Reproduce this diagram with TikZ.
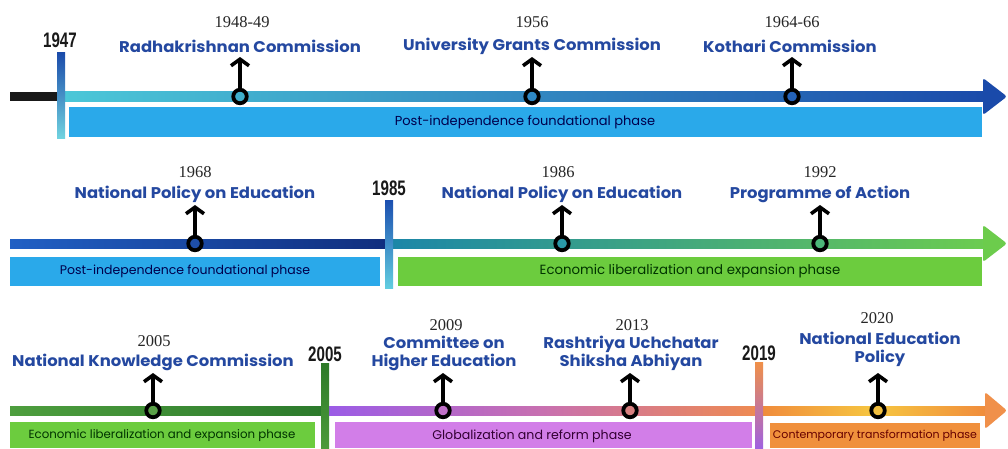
\documentclass[tikz,border=0pt]{standalone}
\usepackage{fontspec}
\setmainfont{Liberation Serif}
\newfontfamily\labfont{Poppins}
\newfontfamily\widefont{Poppins}[FakeStretch=1.06]
\newfontfamily\erafont{Liberation Sans}[FakeStretch=0.72]
\usetikzlibrary{arrows.meta}

\definecolor{labblue}{HTML}{2448A0}
\definecolor{cyanA}{HTML}{4CC8D8}
\definecolor{blueA}{HTML}{1A4AAA}
\definecolor{skyBox}{HTML}{2AA9EA}
\definecolor{greenBox}{HTML}{6CCC3E}
\definecolor{violetBox}{HTML}{D27EE8}
\definecolor{orangeBox}{HTML}{F0903C}
% timeline bar colours
\definecolor{navyL}{HTML}{2160C4}
\definecolor{navyR}{HTML}{112E7E}
\definecolor{tealL}{HTML}{1B86A8}
\definecolor{greenR}{HTML}{6CCC50}
\definecolor{greenTip}{HTML}{6CCC4C}
\definecolor{barTop}{HTML}{1C4FB0}
\definecolor{barBot}{HTML}{62CDE0}
\definecolor{dgreenL}{HTML}{4E9E3E}
\definecolor{dgreenR}{HTML}{2C7A2C}
\definecolor{purpL}{HTML}{9B5CE6}
\definecolor{pinkM}{HTML}{C870B0}
\definecolor{orangeR}{HTML}{EE8A52}
\definecolor{orangeE}{HTML}{F08C3C}
\definecolor{yellowM}{HTML}{F6C640}
\definecolor{orangeTip}{HTML}{F0904A}
\definecolor{gbarTop}{HTML}{2E7A28}
\definecolor{gbarBot}{HTML}{4C9A3A}
\definecolor{obarTop}{HTML}{F09048}
\definecolor{obarBot}{HTML}{A062E0}
% marker fills
\definecolor{dotA}{HTML}{3FAFCC}
\definecolor{dotB}{HTML}{2E88C4}
\definecolor{dotC}{HTML}{2462B8}
\definecolor{dotD}{HTML}{1E4EA8}
\definecolor{dotE}{HTML}{2A9AA8}
\definecolor{dotF}{HTML}{4CB878}
\definecolor{dotG}{HTML}{5AA048}
\definecolor{dotH}{HTML}{C070C8}
\definecolor{dotI}{HTML}{D88080}
\definecolor{dotJ}{HTML}{F2C040}

\begin{document}
\begin{tikzpicture}[x=1pt,y=-1pt,
  evlabel/.style={font=\widefont\bfseries\fontsize{15.5}{18}\selectfont, text=labblue, align=center, inner sep=0pt},
  yr/.style={font=\fontsize{16.5}{17}\selectfont, text=black!85, inner sep=0pt},
  era/.style={font=\erafont\bfseries\fontsize{21}{21}\selectfont, text=black!90, inner sep=0pt},
  phase/.style={font=\labfont\fontsize{13}{14}\selectfont, inner sep=0pt},
  dot/.style={circle, draw=black, line width=3.8pt, minimum size=13.5pt, inner sep=0pt},
  up/.style={line width=3.8pt, -{Straight Barb[length=6.5pt,width=18pt,line width=3.6pt]}},
  tip/.style={rounded corners=2.5pt}
]
\fill[white] (0,0) rectangle (1008,448);
\useasboundingbox (0,0) rectangle (1008,448);

% ---------- 1947 -- 1966 ----------
\fill[black!90] (10,92) rectangle (58,101);
\fill[left color=cyanA, right color=blueA] (58,91.5) rectangle (986,101);
\fill[blueA, tip] (983,78) -- (1007,96.5) -- (983,115) -- cycle;
\fill[top color=blueA, bottom color=cyanA!80] (57,52) rectangle (65,138);
\fill[skyBox] (69,107) rectangle (982,137);
\node[phase, text=blue!30!black] (p1) at (525,122) {Post-independence foundational phase};
\node[era] (e1) at (60,40) {1947};

\node[dot, fill=dotA] (c1) at (240,96.5) {};
\node[evlabel] (l1) at (240,46) {Radhakrishnan Commission};
\node[yr] (y1) at (242,22) {1948-49};
\coordinate (t1) at (240,57);
\draw[up] (c1) -- (t1);

\node[dot, fill=dotB] (c2) at (532,96.5) {};
\node[evlabel] (l2) at (532,46) {University Grants Commission};
\node[yr] (y2) at (532,22) {1956};
\coordinate (t2) at (532,57);
\draw[up] (c2) -- (t2);

\node[dot, fill=dotC] (c3) at (792,96.5) {};
\node[evlabel] (l3) at (790,46) {Kothari Commission};
\node[yr] (y3) at (792,22) {1964-66};
\coordinate (t3) at (792,57);
\draw[up] (c3) -- (t3);

% ---------- 1968 -- 1992 ----------
\fill[left color=navyL, right color=navyR] (10,239) rectangle (386,248);
\fill[left color=tealL, right color=greenR] (390,239) rectangle (986,248);
\fill[greenTip, tip] (983,225) -- (1007,243.5) -- (983,262) -- cycle;
\fill[top color=barTop, bottom color=barBot] (385,200) rectangle (393,288);
\fill[skyBox] (10,257) rectangle (380,286);
\fill[greenBox] (398,257) rectangle (982,286);
\node[phase, font=\labfont\fontsize{12.5}{14}\selectfont, text=blue!30!black] (p2) at (185,271) {Post-independence foundational phase};
\node[phase, font=\labfont\fontsize{13.3}{14}\selectfont, text=green!20!black] (p3) at (690,271) {Economic liberalization and expansion phase};
\node[era] (e2) at (389,188) {1985};

\node[dot, fill=dotD] (c4) at (195,243.5) {};
\node[evlabel] (l4) at (195,194) {National Policy on Education};
\node[yr] (y4) at (195,172) {1968};
\coordinate (t4) at (195,205);
\draw[up] (c4) -- (t4);

\node[dot, fill=dotE] (c5) at (562,243.5) {};
\node[evlabel] (l5) at (562,194) {National Policy on Education};
\node[yr] (y5) at (558,172) {1986};
\coordinate (t5) at (562,205);
\draw[up] (c5) -- (t5);

\node[dot, fill=dotF] (c6) at (820,243.5) {};
\node[evlabel] (l6) at (820,194) {Programme of Action};
\node[yr] (y6) at (820,172) {1992};
\coordinate (t6) at (820,205);
\draw[up] (c6) -- (t6);

% ---------- 2005 -- 2020 ----------
\fill[left color=dgreenL, right color=dgreenR] (10,406) rectangle (322,415);
\fill[left color=purpL, right color=orangeR, middle color=pinkM] (329,406) rectangle (756,415);
\fill[left color=orangeE, right color=orangeE, middle color=yellowM] (763,406) rectangle (986,415);
\fill[orangeTip, tip] (985,392) -- (1007,410.5) -- (985,429) -- cycle;
\fill[top color=gbarTop, bottom color=gbarBot] (321,363) rectangle (329,448);
\fill[top color=obarTop, bottom color=obarBot] (755,362) rectangle (763,448);
\fill[greenBox] (10,422) rectangle (315,448);
\fill[violetBox] (335,422) rectangle (752,448);
\fill[orangeBox] (770,423) rectangle (980,448);
\node[phase, font=\labfont\fontsize{11.8}{12}\selectfont, text=green!20!black] (p4) at (162,436) {Economic liberalization and expansion phase};
\node[phase, font=\labfont\fontsize{12.6}{13}\selectfont, text=violet!40!black] (p5) at (532,436) {Globalization and reform phase};
\node[phase, font=\labfont\fontsize{11}{12}\selectfont, text=red!40!black] (p6) at (875,436) {Contemporary transformation phase};
\node[era] (e3) at (325,354) {2005};
\node[era] (e4) at (759,353) {2019};

\node[dot, fill=dotG] (c7) at (153,410.5) {};
\node[evlabel] (l7) at (153,362) {National Knowledge Commission};
\node[yr] (y7) at (154,341) {2005};
\coordinate (t7) at (153,373);
\draw[up] (c7) -- (t7);

\node[dot, fill=dotH] (c8) at (443,410.5) {};
\node[evlabel] (l8) at (444,353) {Committee on\\Higher Education};
\node[yr] (y8) at (446,325) {2009};
\coordinate (t8) at (443,373);
\draw[up] (c8) -- (t8);

\node[dot, fill=dotI] (c9) at (630,410.5) {};
\node[evlabel] (l9) at (631,353) {Rashtriya Uchchatar\\Shiksha Abhiyan};
\node[yr] (y9) at (632,325) {2013};
\coordinate (t9) at (630,373);
\draw[up] (c9) -- (t9);

\node[dot, fill=dotJ] (c10) at (878,410.5) {};
\node[evlabel] (l10) at (880,349) {National Education\\Policy};
\node[yr] (y10) at (877,318) {2020};
\coordinate (t10) at (878,373);
\draw[up] (c10) -- (t10);
\end{tikzpicture}
\end{document}
